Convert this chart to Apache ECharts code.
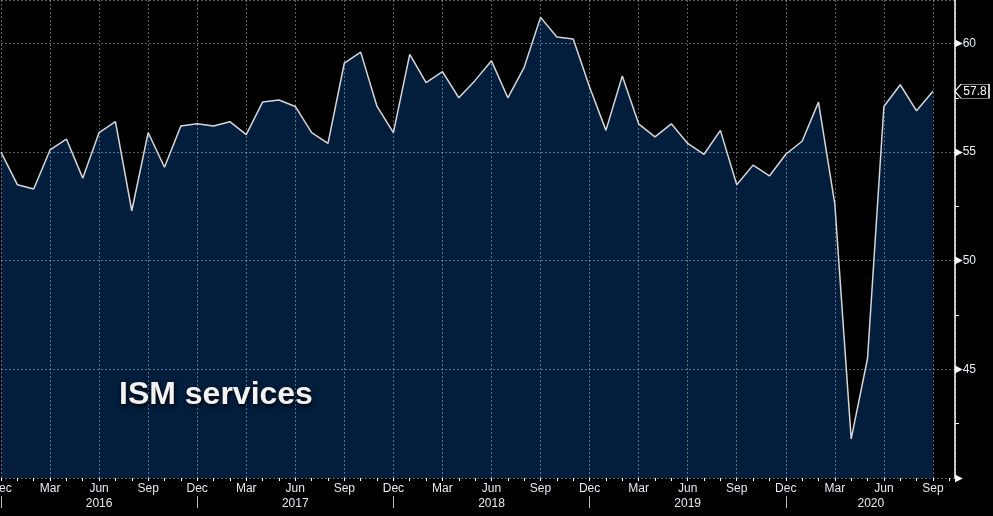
<!DOCTYPE html>
<html><head><meta charset="utf-8">
<script src="https://cdn.jsdelivr.net/npm/echarts@6/dist/echarts.min.js"></script>
<style>html,body{margin:0;padding:0;background:#000}#c{width:993px;height:516px}</style>
</head><body><div id="c"></div>
<script>
// Monthly ISM services index, Dec 2015 .. Sep 2020
const monthNames = ['Jan','Feb','Mar','Apr','May','Jun','Jul','Aug','Sep','Oct','Nov','Dec'];
const startMonth = 11; // Dec
const startYear = 2015;
const values = [55.0, 53.5, 53.3, 55.1, 55.6, 53.8, 55.9, 56.4, 52.3, 55.9, 54.3, 56.2,
  56.3, 56.2, 56.4, 55.8, 57.3, 57.4, 57.1, 55.9, 55.4, 59.1, 59.6, 57.1,
  55.9, 59.5, 58.2, 58.7, 57.5, 58.3, 59.2, 57.5, 58.9, 61.2, 60.3, 60.2,
  58.0, 56.0, 58.5, 56.3, 55.7, 56.3, 55.4, 54.9, 56.0, 53.5, 54.4, 53.9,
  54.9, 55.5, 57.3, 52.6, 41.8, 45.5, 57.1, 58.1, 56.9, 57.8];
const yearLabels = ['2016','2017','2018','2019','2020'];
const yearLabelPos = [6, 18, 30, 42, 53.2];
const yearSepPos = [0, 12, 24, 36, 48];
const yTicks = [40, 45, 50, 55, 60];
const yMinorTicks = [42.5, 47.5, 52.5, 57.5];
const titleText = 'ISM services';

const xMax = 58.35;
const yMin = 40, yMax = 62;
const data = values.map((v, i) => [i, v]);
const last = values[values.length - 1];
const monthTicks = values.map((v, i) => i).concat([values.length]);

const chart = echarts.init(document.getElementById('c'));
const gridLineStyle = {color: 'rgba(200,210,225,0.45)', type: [2, 2], width: 1};
const font = 'Liberation Sans, Arial, sans-serif';
chart.setOption({
  backgroundColor: '#000',
  animation: false,
  title: {
    text: titleText, left: 114, top: 374,
    textStyle: {color: '#f2f2f2', fontSize: 32, fontWeight: 'bold', fontFamily: font,
      textShadowColor: 'rgba(0,0,0,0.9)', textShadowBlur: 4, textShadowOffsetX: 1, textShadowOffsetY: 2}
  },
  grid: {left: 1, right: 38, top: 0, bottom: 38, outerBoundsMode: 'none', containLabel: false},
  xAxis: [{
    // month labels + monthly tick marks
    type: 'value', min: 0, max: xMax, position: 'bottom', z: 4,
    axisLine: {show: false, onZero: false},
    axisTick: {show: true, length: 3, customValues: monthTicks, lineStyle: {color: '#fff'}},
    splitLine: {show: false},
    axisLabel: {
      margin: 5, color: '#e8ecf0', fontSize: 12, fontFamily: font,
      customValues: monthTicks.filter(m => m % 3 === 0),
      formatter: v => monthNames[(startMonth + v) % 12]
    }
  }, {
    // year labels and separators
    type: 'value', min: 0, max: xMax, position: 'bottom', offset: 18,
    axisLine: {show: false, onZero: false},
    axisTick: {show: true, length: 12, customValues: yearSepPos, lineStyle: {color: '#bbb', width: 1}},
    splitLine: {show: false},
    axisLabel: {
      margin: 2, color: '#e8ecf0', fontSize: 12, fontFamily: font,
      customValues: yearLabelPos,
      formatter: v => yearLabels[yearLabelPos.indexOf(v)] || ''
    }
  }, {
    // quarterly dotted grid lines
    type: 'value', min: 0, max: xMax, interval: 3, position: 'top', z: 3,
    axisLine: {show: false, onZero: false},
    axisTick: {show: false},
    splitLine: {show: true, lineStyle: gridLineStyle},
    axisLabel: {show: false}
  }],
  yAxis: [{
    type: 'value', position: 'right', min: yMin, max: yMax, z: 4,
    axisLine: {show: true, onZero: false, lineStyle: {color: '#fff', width: 1.5}},
    axisTick: {show: true, length: 4, customValues: yMinorTicks, lineStyle: {color: '#fff'}},
    splitLine: {show: false},
    axisLabel: {
      margin: 0, customValues: yTicks,
      formatter: v => v === yMin ? '{t|▶}' : '{t|▶}{v|' + v + '}',
      rich: {
        t: {color: '#fff', fontSize: 10, fontFamily: 'DejaVu Sans'},
        v: {color: '#e8ecf0', fontSize: 12, fontFamily: font}
      }
    }
  }, {
    // dotted horizontal grid lines
    type: 'value', position: 'left', min: yMin, max: yMax, interval: 5, z: 3,
    axisLine: {show: false, onZero: false},
    axisTick: {show: false},
    splitLine: {show: true, lineStyle: gridLineStyle},
    axisLabel: {show: false}
  }],
  series: [{
    type: 'line', data: data, xAxisIndex: 0, yAxisIndex: 0, symbol: 'none', z: 2,
    lineStyle: {color: '#d6d6d6', width: 1.5},
    areaStyle: {color: '#021e3c', opacity: 1, origin: 'start'},
    markPoint: {
      silent: true,
      data: [{coord: [xMax, last], value: last}],
      symbol: 'path://M0,7 L6,0 L34,0 L34,14 L6,14 Z',
      symbolSize: [34, 14], symbolKeepAspect: false, symbolOffset: [17, 0],
      itemStyle: {color: '#000', borderColor: '#fff', borderWidth: 1},
      label: {show: true, position: 'inside', offset: [3, 0], color: '#fff', fontSize: 12,
        fontFamily: font, formatter: p => p.value.toFixed(1)}
    }
  }]
});
</script></body></html>
